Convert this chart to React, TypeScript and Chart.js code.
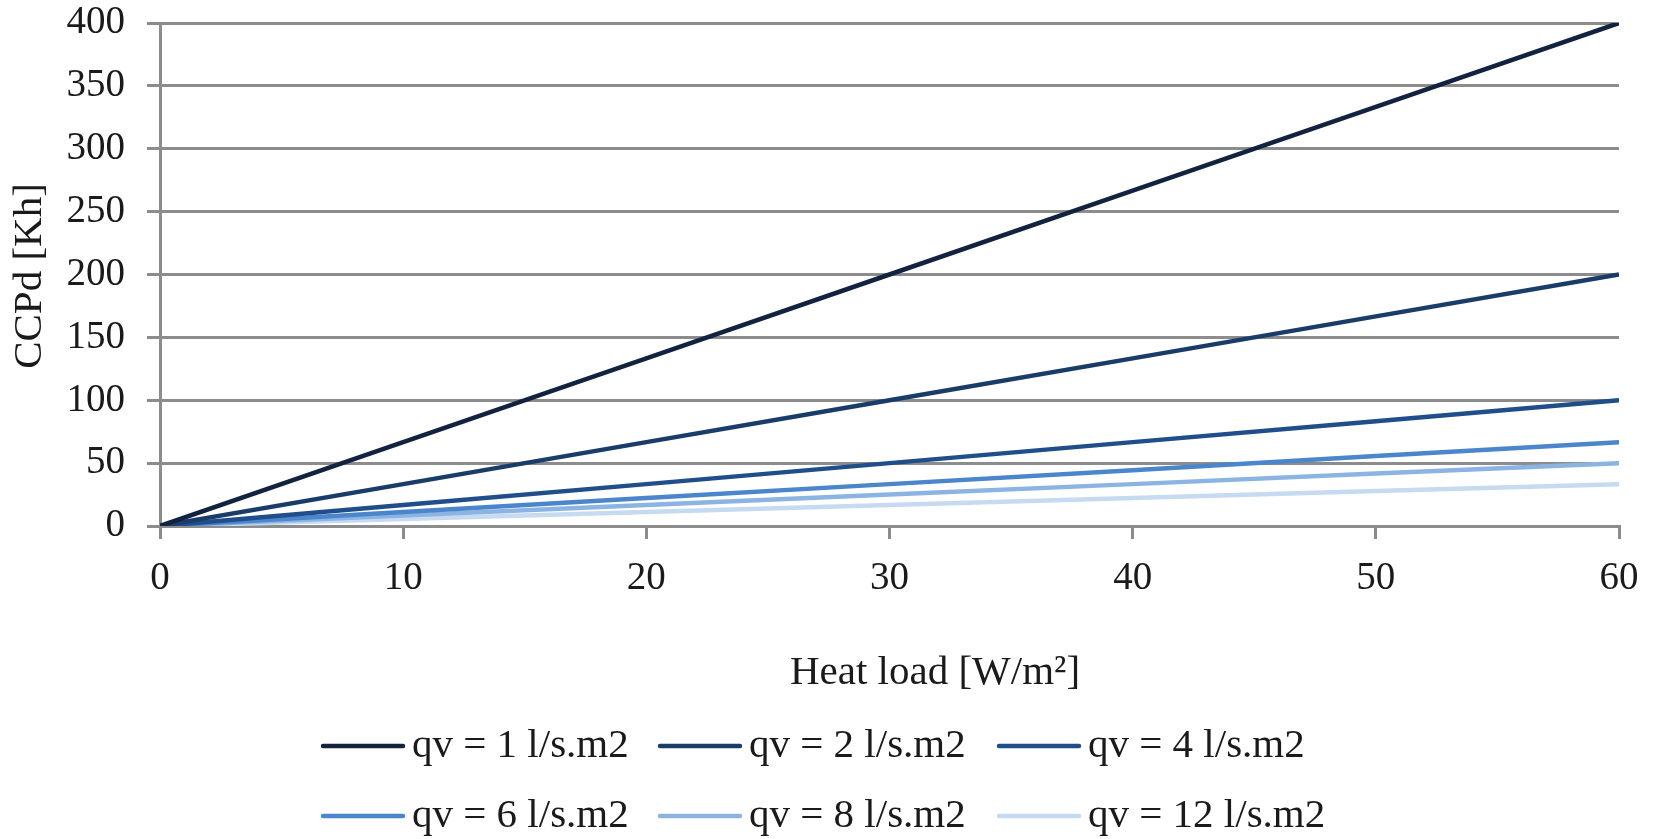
import React, { useEffect, useRef } from "react";
import { Chart, registerables } from "chart.js";

Chart.register(...registerables);

const heatLoad = [0, 10, 20, 30, 40, 50, 60];
const seriesLabels = [
  "qv = 1 l/s.m2",
  "qv = 2 l/s.m2",
  "qv = 4 l/s.m2",
  "qv = 6 l/s.m2",
  "qv = 8 l/s.m2",
  "qv = 12 l/s.m2",
];
const qv1 = [0, 66.7, 133.3, 200, 266.7, 333.3, 400];
const qv2 = [0, 33.3, 66.7, 100, 133.3, 166.7, 200];
const qv4 = [0, 16.7, 33.3, 50, 66.7, 83.3, 100];
const qv6 = [0, 11.1, 22.2, 33.3, 44.4, 55.6, 66.7];
const qv8 = [0, 8.3, 16.7, 25, 33.3, 41.7, 50];
const qv12 = [0, 5.6, 11.1, 16.7, 22.2, 27.8, 33.3];
const seriesValues = [qv1, qv2, qv4, qv6, qv8, qv12];
const seriesColors = ["#13233f", "#193c69", "#1f4e8b", "#4b85cc", "#8cb4e2", "#c6daf1"];
const yTicks = [0, 50, 100, 150, 200, 250, 300, 350, 400];
const xTicks = [0, 10, 20, 30, 40, 50, 60];
const xTitle = "Heat load [W/m²]";
const yTitle = "CCPd [Kh]";

const FONT = "'Liberation Serif', 'Times New Roman', serif";
const TEXT = "#1a1a1a";
const GRID = "#8c8c8c";

const customPlugin = {
  id: "customText",
  afterDraw(chart: any) {
    const ctx = chart.ctx;
    ctx.save();
    ctx.fillStyle = TEXT;
    ctx.font = `41px ${FONT}`;
    ctx.textBaseline = "middle";
    // y title
    ctx.save();
    ctx.translate(30, 276);
    ctx.rotate(-Math.PI / 2);
    ctx.textAlign = "center";
    ctx.fillText(yTitle, 0, 0);
    ctx.restore();
    // x title
    ctx.textAlign = "center";
    ctx.fillText(xTitle, 935, 673);
    // legend
    const colX = [321, 658, 997];
    const rowY = [746, 816];
    chart.data.datasets.forEach((ds: any, i: number) => {
      const x = colX[i % 3];
      const y = rowY[Math.floor(i / 3)];
      ctx.strokeStyle = ds.borderColor;
      ctx.lineWidth = 4.5;
      ctx.lineCap = "round";
      ctx.beginPath();
      ctx.moveTo(x + 2, y);
      ctx.lineTo(x + 82, y);
      ctx.stroke();
      ctx.textAlign = "left";
      ctx.fillStyle = TEXT;
      ctx.fillText(ds.label, x + 91, y);
    });
    ctx.restore();
  },
};

export default function App() {
  const ref = useRef<HTMLCanvasElement | null>(null);
  useEffect(() => {
    if (!ref.current) return;
    const chart = new Chart(ref.current, {
      type: "line",
      data: {
        labels: heatLoad,
        datasets: seriesValues.map((vals, i) => ({
          label: seriesLabels[i],
          data: vals.map((v, j) => ({ x: heatLoad[j], y: v })),
          borderColor: seriesColors[i],
          backgroundColor: seriesColors[i],
          borderWidth: 4.5,
          pointRadius: 0,
          tension: 0,
          fill: false,
        })),
      },
      options: {
        animation: false,
        responsive: false,
        devicePixelRatio: 1,
        layout: { padding: { left: 0, top: 23, right: 37, bottom: 146 } },
        plugins: { legend: { display: false }, tooltip: { enabled: false } },
        scales: {
          x: {
            type: "linear",
            min: 0,
            max: 60,
            afterBuildTicks: (s: any) => {
              s.ticks = xTicks.map((v) => ({ value: v }));
            },
            afterFit: (s: any) => {
              s.height = 167;
              s.paddingLeft = 0;
              s.paddingRight = 0;
            },
            border: { display: true, color: GRID, width: 3 },
            grid: { drawOnChartArea: false, drawTicks: true, tickLength: 13, color: GRID, lineWidth: 3 },
            ticks: { font: { family: FONT, size: 39 }, color: TEXT, padding: 16, maxRotation: 0 },
          },
          y: {
            type: "linear",
            min: 0,
            max: 400,
            afterBuildTicks: (s: any) => {
              s.ticks = yTicks.map((v) => ({ value: v }));
            },
            afterFit: (s: any) => {
              s.width = 160;
              s.paddingTop = 0;
              s.paddingBottom = 0;
            },
            border: { display: true, color: GRID, width: 3 },
            grid: { drawOnChartArea: true, drawTicks: true, tickLength: 13, color: GRID, lineWidth: 3 },
            ticks: { font: { family: FONT, size: 39 }, color: TEXT, padding: 22 },
          },
        },
      },
      plugins: [customPlugin],
    });
    return () => chart.destroy();
  }, []);
  return (
    <div style={{ position: "absolute", left: 0, top: 0, width: 1656, height: 839, background: "#fff" }}>
      <canvas ref={ref} width={1656} height={839} style={{ display: "block" }} />
    </div>
  );
}
